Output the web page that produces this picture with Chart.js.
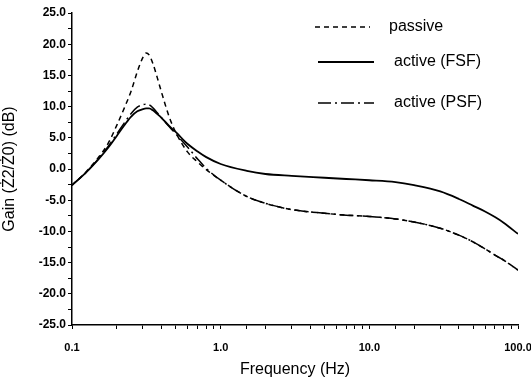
<!DOCTYPE html>
<html>
<head>
<meta charset="utf-8">
<script src="https://cdn.jsdelivr.net/npm/chart.js@4.4.1/dist/chart.umd.min.js"></script>
<style>
html,body{margin:0;padding:0;background:#fff;}
#wrap{width:531px;height:379px;position:relative;}
</style>
</head>
<body>
<div id="wrap"><canvas id="c" width="531" height="379"></canvas></div>
<script>
const frequencies = [0.1, 0.125, 0.15, 0.175, 0.2, 0.225, 0.25, 0.275, 0.3, 0.315, 0.33, 0.35, 0.375, 0.4, 0.45, 0.5, 0.6, 0.7, 0.8, 1, 1.5, 2, 3, 5, 7, 10, 15, 20, 30, 40, 50, 60, 70, 80, 100];
const passive = [-2.6, -0.4, 1.8, 4.1, 7.0, 9.8, 12.5, 15.6, 17.9, 18.6, 18.3, 16.9, 14.6, 12.3, 8.4, 5.8, 2.7, 1.1, -0.1, -1.8, -4.4, -5.5, -6.5, -7.1, -7.4, -7.6, -8.0, -8.5, -9.5, -10.6, -11.7, -12.8, -13.8, -14.6, -16.2];
const activeFSF = [-2.6, -0.5, 1.5, 3.4, 5.3, 7.0, 8.4, 9.25, 9.6, 9.7, 9.7, 9.4, 8.8, 8.2, 6.9, 5.9, 4.0, 2.8, 1.9, 0.8, -0.3, -0.8, -1.1, -1.4, -1.6, -1.8, -2.1, -2.6, -3.6, -4.8, -5.9, -6.8, -7.7, -8.6, -10.4];
const activePSF = [-2.6, -0.5, 1.6, 3.6, 5.6, 7.4, 8.9, 9.9, 10.3, 10.4, 10.3, 9.8, 9.0, 8.2, 6.8, 5.6, 3.5, 1.6, 0.1, -1.8, -4.4, -5.5, -6.5, -7.1, -7.4, -7.6, -8.0, -8.5, -9.5, -10.6, -11.7, -12.8, -13.8, -14.6, -16.2];
const seriesLabels = ['passive', 'active (FSF)', 'active (PSF)'];
const xTickLabels = {0.1: '0.1', 1: '1.0', 10: '10.0', 100: '100.0'};
const yMin = -25, yMax = 25, yStep = 2.5;

function pts(arr){ return frequencies.map((f,i)=>({x:f, y:arr[i]})); }

const dashes = [[5,4], [], [13,4,2,4]];
const widths = [1.5, 1.8, 1.5];

const legendPlugin = {
  id: 'inlineLegend',
  afterDraw(chart){
    const ctx = chart.ctx;
    const rows = [
      {y: 27, x0: 315, x1: 370, tx: 389},
      {y: 62, x0: 318, x1: 374, tx: 394},
      {y: 103, x0: 318, x1: 374, tx: 394}
    ];
    ctx.save();
    chart.data.datasets.forEach((ds, i) => {
      const r = rows[i];
      ctx.strokeStyle = '#000';
      ctx.lineWidth = ds.borderWidth;
      ctx.setLineDash(ds.borderDash || []);
      ctx.beginPath();
      ctx.moveTo(r.x0, r.y);
      ctx.lineTo(r.x1, r.y);
      ctx.stroke();
      ctx.setLineDash([]);
      ctx.fillStyle = '#000';
      ctx.font = '16px "Liberation Sans", Arial, sans-serif';
      ctx.textBaseline = 'middle';
      ctx.textAlign = 'left';
      ctx.fillText(ds.label, r.tx, r.y);
    });
    ctx.restore();
  }
};

new Chart(document.getElementById('c'), {
  type: 'line',
  data: {
    datasets: [passive, activeFSF, activePSF].map((arr, i) => ({
      label: seriesLabels[i],
      data: pts(arr),
      borderColor: '#000',
      borderWidth: widths[i],
      borderDash: dashes[i],
      pointRadius: 0,
      fill: false,
      cubicInterpolationMode: 'monotone'
    }))
  },
  options: {
    responsive: false,
    animation: false,
    events: [],
    layout: {padding: {top: 13, right: 0, left: 0, bottom: 0}},
    plugins: {legend: {display: false}, tooltip: {enabled: false}},
    scales: {
      x: {
        type: 'logarithmic',
        min: 0.1, max: 100,
        border: {display: true, color: '#000', width: 1.5},
        grid: {drawOnChartArea: false, drawTicks: true, tickLength: 4, color: '#000'},
        ticks: {
          autoSkip: false, maxRotation: 0, padding: 12,
          color: '#000',
          font: {family: '"Liberation Sans", Arial, sans-serif', size: 11, weight: 'bold'},
          callback: function(v){
            for (const k in xTickLabels){ if (Math.abs(v - Number(k)) < 1e-9 * Number(k) + 1e-12) return xTickLabels[k]; }
            return '';
          }
        },
        title: {display: true, text: 'Frequency (Hz)', color: '#000', padding: {top: 4, bottom: 0},
          font: {family: '"Liberation Sans", Arial, sans-serif', size: 16}},
        afterFit(scale){ scale.height = 54; scale.paddingRight = 13; scale.paddingLeft = 0; }
      },
      y: {
        min: yMin, max: yMax,
        border: {display: true, color: '#000', width: 1.5},
        grid: {drawOnChartArea: false, drawTicks: true, tickLength: 4, color: '#000'},
        ticks: {
          stepSize: yStep, autoSkip: false, padding: 2,
          color: '#000',
          font: {family: '"Liberation Sans", Arial, sans-serif', size: 12, weight: 'bold'},
          callback: function(v){ return (Math.abs(v % 5) < 1e-9) ? v.toFixed(1) : ''; }
        },
        title: {display: true, text: 'Gain (Ż2/Ż0) (dB)', color: '#000', padding: {top: 0, bottom: 0},
          font: {family: '"Liberation Sans", Arial, sans-serif', size: 16}},
        afterFit(scale){ scale.width = 72; scale.paddingTop = 0; scale.paddingBottom = 0; }
      }
    }
  },
  plugins: [legendPlugin]
});
</script>
</body>
</html>
